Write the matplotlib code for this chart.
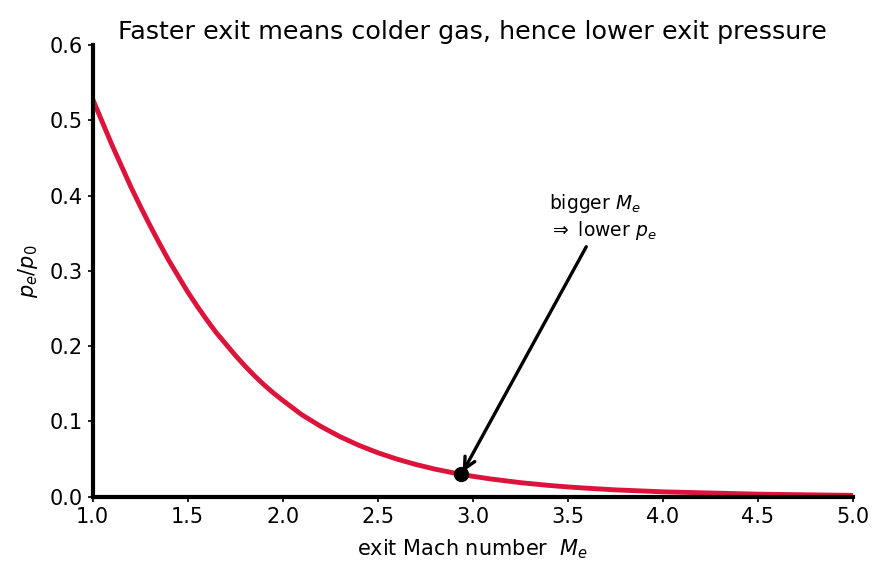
import matplotlib
matplotlib.use("Agg")
import numpy as np
from matplotlib import pyplot as plt

# exit Mach number and pressure ratio
mach = [1.0, 1.05, 1.1, 1.15, 1.2, 1.25, 1.3, 1.35, 1.4, 1.45, 1.5,
        1.55, 1.6, 1.65, 1.7, 1.75, 1.8, 1.85, 1.9, 1.95, 2.0,
        2.1, 2.2, 2.3, 2.4, 2.5, 2.6, 2.7, 2.8, 2.9, 3.0, 3.1,
        3.25, 3.4, 3.5, 3.6, 3.75, 4.0, 4.5, 5.0]
p_ratio = [0.528, 0.498, 0.468, 0.440, 0.412, 0.386, 0.361, 0.337, 0.314, 0.293, 0.272,
           0.253, 0.235, 0.218, 0.203, 0.188, 0.174, 0.161, 0.149, 0.138, 0.128,
           0.109, 0.0935, 0.080, 0.0684, 0.0585, 0.0501, 0.0429, 0.0368, 0.0317, 0.0272, 0.0235,
           0.0188, 0.0151, 0.0131, 0.0114, 0.0092, 0.0066, 0.0035, 0.0019]

# highlighted design point
point_M = 2.94
point_p = 0.0298

fig, ax = plt.subplots(figsize=(8.83, 5.77), dpi=100)
ax.plot(mach, p_ratio, color='crimson', lw=3.5, solid_joinstyle='round')
ax.plot([point_M], [point_p], 'o', color='black', ms=10, zorder=5)
ax.annotate('bigger $M_e$\n$\\Rightarrow$ lower $p_e$', xy=(point_M, point_p),
            xytext=(3.4, 0.347), fontsize=13.5,
            arrowprops=dict(arrowstyle='->', color='black', lw=2.4, mutation_scale=20))

ax.set_xlim(1.0, 5.0)
ax.set_ylim(0.0, 0.6)
ax.set_xticks(np.arange(1.0, 5.01, 0.5))
ax.set_yticks(np.arange(0.0, 0.61, 0.1))
ax.tick_params(labelsize=15, width=1.2)
for s in ['top', 'right']:
    ax.spines[s].set_visible(False)
for s in ['left', 'bottom']:
    ax.spines[s].set_linewidth(3)
ax.set_xlabel('exit Mach number  $M_e$', fontsize=15, labelpad=8)
ax.set_ylabel('$p_e/p_0$', fontsize=15, labelpad=7)
ax.set_title('Faster exit means colder gas, hence lower exit pressure', fontsize=18.3, pad=4)

plt.subplots_adjust(left=0.105, right=0.966, top=0.922, bottom=0.139)
plt.savefig('out.png', dpi=100)
